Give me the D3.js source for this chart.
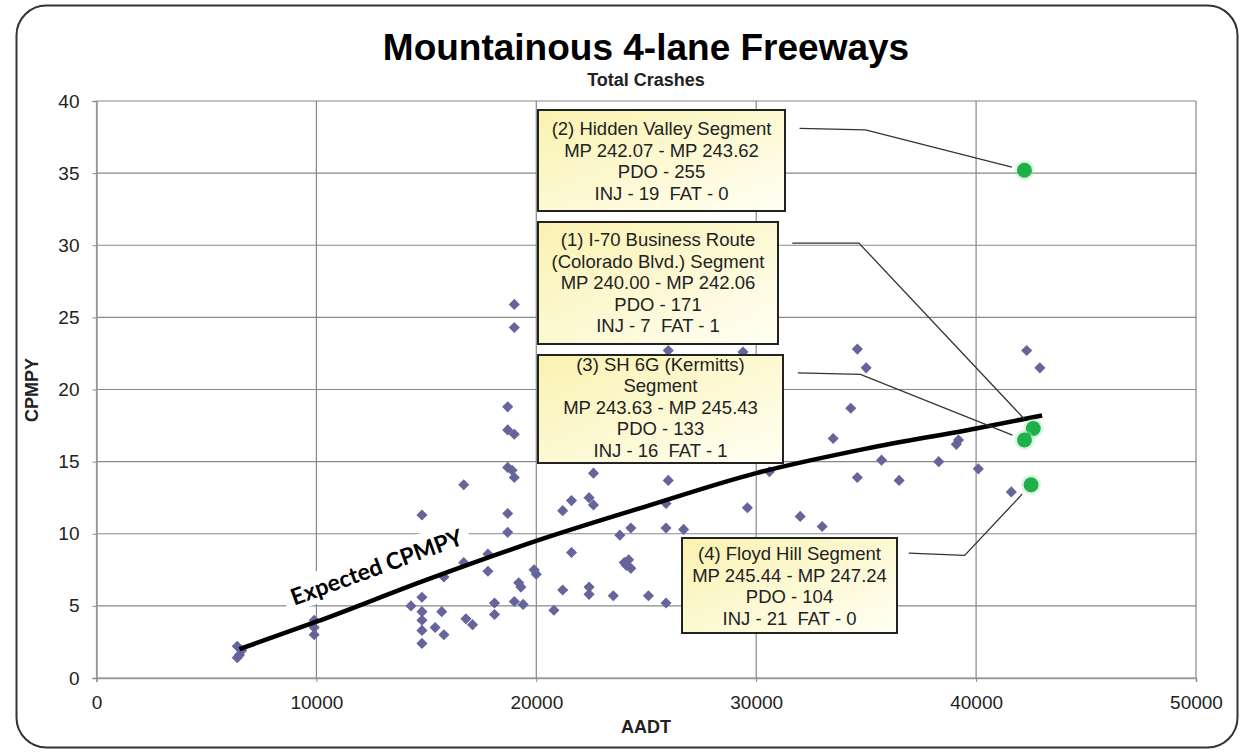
<!DOCTYPE html>
<html>
<head>
<meta charset="utf-8">
<script src="https://cdn.jsdelivr.net/npm/d3@7"></script>
<style>
  body { margin: 0; background: #fff; }
  svg { display: block; }
  text { font-family: "Liberation Sans", Arial, sans-serif; }
</style>
</head>
<body>
<script>
'use strict';

// all freeway segments: AADT and crashes per mile per year
const aadt = [
  6400, 6600, 6500, 6400,
  9900, 9900, 9900,
  14800, 14300, 14800, 14800, 14800, 14800, 14800,
  15700, 15400, 15800, 16800, 17100, 15800,
  16700, 16700, 17800, 17800,
  18100, 18100, 18700, 18700, 19000, 18700, 18900, 19000,
  18700, 18700, 19000, 19000, 19000, 19400, 19200, 19300, 19900, 20000,
  20800, 21200, 21200, 21600, 21600,
  22400, 22600, 22600, 22400, 22400,
  23500, 23800, 24300, 24000, 24200, 24300, 24100,
  25100, 25900, 25900, 26000, 25900, 26700, 26000,
  29600, 29400,
  30600, 32000, 33000, 33500, 34300, 34600, 35000, 34600, 35700, 36500,
  38300, 39100, 39200, 40100, 41600, 42300, 42900
];
const cpmpy = [
  2.2, 1.9, 1.6, 1.4,
  4.0, 3.5, 3.0,
  11.3, 5.0, 5.6, 4.6, 4.0, 3.3, 2.4,
  4.6, 3.5, 3.0, 4.1, 3.7, 7.0,
  13.4, 8.0, 8.6, 7.4,
  5.2, 4.4, 18.8, 17.2, 16.9, 14.6, 14.4, 13.9,
  11.4, 10.1, 25.9, 24.3, 5.3, 5.1, 6.6, 6.3, 7.5, 7.2,
  4.7, 6.1, 11.6, 12.3, 8.7,
  12.5, 12.0, 14.2, 6.3, 5.8,
  5.7, 9.9, 10.4, 8.0, 8.2, 7.6, 7.8,
  5.7, 5.2, 12.1, 13.7, 10.4, 10.3, 22.7,
  11.8, 22.6,
  14.3, 11.2, 10.5, 16.6, 18.7, 22.8, 21.5, 13.9, 15.1, 13.7,
  15.0, 16.2, 16.5, 14.5, 12.9, 22.7, 21.5
];

// the four studied segments (1)..(4)
const segAadt = [42600, 42200, 42200, 42500];
const segCpmpy = [17.3, 35.2, 16.5, 13.4];

// expected CPMPY curve
const curveAadt = [6500, 10000, 15000, 20000, 25000, 30000, 35000, 40000, 43000];
const curveCpmpy = [2.0, 3.9, 6.8, 9.5, 11.9, 14.2, 15.9, 17.3, 18.2];

const xTicks = [0, 10000, 20000, 30000, 40000, 50000];
const yTicks = [0, 5, 10, 15, 20, 25, 30, 35, 40];

const calloutText = [
  ["(1) I-70 Business Route", "(Colorado Blvd.) Segment", "MP 240.00 - MP 242.06", "PDO - 171", "INJ - 7  FAT - 1"],
  ["(2) Hidden Valley Segment", "MP 242.07 - MP 243.62", "PDO - 255", "INJ - 19  FAT - 0"],
  ["(3) SH 6G (Kermitts)", "Segment", "MP 243.63 - MP 245.43", "PDO - 133", "INJ - 16  FAT - 1"],
  ["(4) Floyd Hill Segment", "MP 245.44 - MP 247.24", "PDO - 104", "INJ - 21  FAT - 0"]
];
// leader line start and elbow, in data units
const leaderAadt = [[31640, 34670], [31970, 34970], [31890, 34740], [36940, 39480]];
const leaderCpmpy = [[30.15, 30.15], [38.1, 38.0], [21.15, 21.05], [8.65, 8.5]];

const width = 1248, height = 755;
const margin = {left: 96.5, right: 52, top: 101, bottom: 77};

const svg = d3.select('body').append('svg')
  .attr('width', width)
  .attr('height', height);

const defs = svg.append('defs');
const grad = defs.append('linearGradient')
  .attr('id', 'boxFill')
  .attr('x1', 0).attr('y1', 0).attr('x2', 1).attr('y2', 1);
grad.append('stop').attr('offset', '0%').attr('stop-color', '#faf2b0');
grad.append('stop').attr('offset', '100%').attr('stop-color', '#fffff4');

// outer frame
svg.append('rect')
  .attr('x', 16.5).attr('y', 5.5)
  .attr('width', 1221).attr('height', 742)
  .attr('rx', 30).attr('ry', 30)
  .style('fill', '#fff')
  .style('stroke', '#333')
  .style('stroke-width', 2);

const x = d3.scaleLinear().domain([0, 50000]).range([margin.left, width - margin.right]);
const y = d3.scaleLinear().domain([0, 40]).range([height - margin.bottom, margin.top]);

// gridlines
svg.append('g').selectAll('line').data(yTicks).enter().append('line')
  .attr('x1', x(0)).attr('x2', x(50000))
  .attr('y1', d => y(d)).attr('y2', d => y(d))
  .style('stroke', '#888').style('stroke-width', 1.2);
svg.append('g').selectAll('line').data(xTicks).enter().append('line')
  .attr('x1', d => x(d)).attr('x2', d => x(d))
  .attr('y1', y(0)).attr('y2', y(40))
  .style('stroke', '#888').style('stroke-width', 1.2);

// axes
const xAxis = svg.append('g')
  .attr('transform', 'translate(0,' + y(0) + ')')
  .call(d3.axisBottom(x).tickValues(xTicks).tickSize(4).tickPadding(14).tickFormat(d3.format('d')));
const yAxis = svg.append('g')
  .attr('transform', 'translate(' + x(0) + ',0)')
  .call(d3.axisLeft(y).tickValues(yTicks).tickSize(4).tickPadding(13));
[xAxis, yAxis].forEach(g => {
  g.select('.domain').style('stroke', '#999').style('stroke-width', 1.5);
  g.selectAll('.tick line').style('stroke', '#888');
  g.selectAll('text')
    .style('font-family', '"Liberation Sans", Arial, sans-serif')
    .style('font-size', '19px')
    .style('fill', '#222');
});

// network segments
svg.append('g').selectAll('path').data(aadt).enter().append('path')
  .attr('d', d3.symbol(d3.symbolSquare, 62))
  .attr('transform', (d, i) => 'translate(' + x(d) + ',' + y(cpmpy[i]) + ') rotate(45)')
  .style('fill', '#65659b');

// expected curve
const line = d3.line()
  .x((d, i) => x(curveAadt[i]))
  .y(d => y(d))
  .curve(d3.curveMonotoneX);
svg.append('path')
  .datum(curveCpmpy)
  .attr('d', line)
  .style('fill', 'none')
  .style('stroke', '#000')
  .style('stroke-width', 4.5);

// "Expected CPMPY" label on a white box
const lab = svg.append('g').attr('transform', 'translate(378,571) rotate(-20)');
lab.append('rect')
  .attr('x', -98).attr('y', -21).attr('width', 196).attr('height', 31)
  .style('fill', '#fff');
lab.append('text')
  .attr('text-anchor', 'middle')
  .attr('y', 4)
  .style('font-family', 'Lato, "Open Sans", sans-serif')
  .style('font-weight', 'bold')
  .style('font-size', '23px')
  .text('Expected CPMPY');

// callout boxes (pixel layout)
const boxes = [
  {x: 538, y: 222, w: 240, h: 122, first: 246},
  {x: 538, y: 110, w: 247, h: 101, first: 135},
  {x: 538, y: 355, w: 245, h: 108, first: 370.5},
  {x: 682, y: 538, w: 215, h: 95, first: 560}
];
boxes.forEach((b, k) => {
  svg.append('rect')
    .attr('x', b.x).attr('y', b.y).attr('width', b.w).attr('height', b.h)
    .style('fill', 'url(#boxFill)')
    .style('stroke', '#222')
    .style('stroke-width', 2);
  svg.append('g').selectAll('text').data(calloutText[k]).enter().append('text')
    .attr('x', b.x + b.w / 2)
    .attr('y', (d, i) => b.first + i * 21.6)
    .attr('text-anchor', 'middle')
    .style('white-space', 'pre')
    .style('font-size', '18.5px')
    .style('fill', '#222')
    .text(d => d);
});

// leader lines to the studied segments
segAadt.forEach((d, k) => {
  const tx = x(d), ty = y(segCpmpy[k]);
  const ex = x(leaderAadt[k][1]), ey = y(leaderCpmpy[k][1]);
  const len = Math.hypot(ex - tx, ey - ty);
  const pts = [
    [x(leaderAadt[k][0]), y(leaderCpmpy[k][0])],
    [ex, ey],
    [tx + (ex - tx) / len * 13, ty + (ey - ty) / len * 13]
  ];
  svg.append('path')
    .attr('d', d3.line()(pts))
    .style('fill', 'none')
    .style('stroke', '#333')
    .style('stroke-width', 1.3);
});

// studied segments (green)
const seg = svg.append('g').selectAll('g').data(segAadt).enter().append('g')
  .attr('transform', (d, i) => 'translate(' + x(d) + ',' + y(segCpmpy[i]) + ')');
seg.append('circle').attr('r', 10).style('fill', '#9be3ad').style('opacity', 0.35);
seg.append('circle').attr('r', 7.5).style('fill', '#1fb04a');

// titles
svg.append('text')
  .attr('x', 646).attr('y', 60)
  .attr('text-anchor', 'middle')
  .style('font-weight', 'bold').style('font-size', '37px')
  .text('Mountainous 4-lane Freeways');
svg.append('text')
  .attr('x', 646).attr('y', 86)
  .attr('text-anchor', 'middle')
  .style('font-weight', 'bold').style('font-size', '18px')
  .style('fill', '#222')
  .text('Total Crashes');
svg.append('text')
  .attr('x', 646).attr('y', 733)
  .attr('text-anchor', 'middle')
  .style('font-weight', 'bold').style('font-size', '18px')
  .style('fill', '#222')
  .text('AADT');
svg.append('text')
  .attr('transform', 'translate(38,390) rotate(-90)')
  .attr('text-anchor', 'middle')
  .style('font-weight', 'bold').style('font-size', '18px')
  .style('fill', '#222')
  .text('CPMPY');
</script>
</body>
</html>
